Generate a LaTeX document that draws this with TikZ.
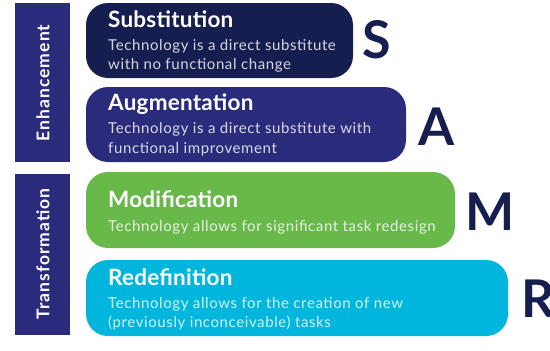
\documentclass[tikz,border=0pt]{standalone}
\usepackage{fontspec}
\setmainfont{Lato}
\definecolor{navy}{HTML}{161E50}
\definecolor{indigo}{HTML}{2A2C7B}
\definecolor{sgreen}{HTML}{68B84A}
\definecolor{scyan}{HTML}{00B6DD}
\begin{document}
\begin{tikzpicture}[x=1pt,y=-1pt,
  box/.style={draw=none,rounded corners=22pt},
  bar/.style={draw=none,fill=indigo},
  ttl/.style={anchor=base west,inner sep=0pt,text=white,font=\fontsize{22.5}{22.5}\selectfont\bfseries\addfontfeatures{LetterSpace=1}},
  dsc/.style={anchor=base west,inner sep=0pt,text=white,opacity=0.82,font=\fontsize{15}{15}\selectfont\addfontfeatures{LetterSpace=4}},
  letter/.style={anchor=base west,inner sep=0pt,text=navy,font=\fontsize{52}{52}\selectfont\bfseries},
  side/.style={rotate=90,inner sep=0pt,text=white,font=\fontsize{17.5}{17.5}\selectfont\bfseries\addfontfeatures{LetterSpace=6}}]
\useasboundingbox (0,0) rectangle (550,351);
% side bars
\fill[bar] (15,3) rectangle (70,162);
\fill[bar] (15,174) rectangle (70,335);
\node[side] (enh) at (43,83) {Enhancement};
\node[side] (tra) at (43,254) {Transformation};
% boxes
\fill[box,fill=navy] (86,3) rectangle (353,78);
\fill[box,fill=indigo] (86,87) rectangle (406,162);
\fill[box,fill=sgreen] (86,172) rectangle (455,248);
\fill[box,fill=scyan] (86,260) rectangle (508,336);
% texts
\node[ttl] (s) at (108,27) {Substitution};
\node[dsc] (s1) at (108,50) {Technology is a direct substitute};
\node[dsc] (s2) at (108,69) {with no functional change};
\node[ttl] (a) at (108,110) {Augmentation};
\node[dsc] (a1) at (108,133) {Technology is a direct substitute with};
\node[dsc] (a2) at (108,153) {functional improvement};
\node[ttl] (m) at (108,207) {Modification};
\node[dsc] (m1) at (108,231) {Technology allows for significant task redesign};
\node[ttl] (r) at (108,285) {Redefinition};
\node[dsc] (r1) at (108,308) {Technology allows for the creation of new};
\node[dsc] (r2) at (108,327) {(previously inconceivable) tasks};
% letters
\node[letter] (ls) at (362,58) {S};
\node[letter] (la) at (418,145) {A};
\node[letter] (lm) at (465,230) {M};
\node[letter] (lr) at (521,317) {R};
\end{tikzpicture}
\end{document}
